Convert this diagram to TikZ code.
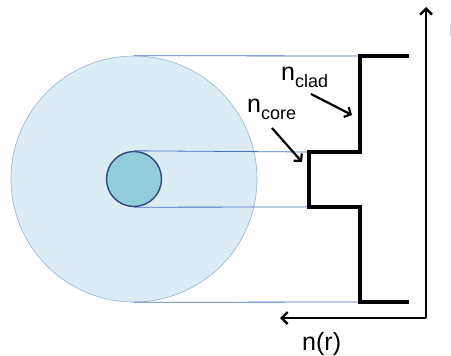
\documentclass[tikz,border=0pt]{standalone}
\usepackage{fontspec}
\setmainfont{Liberation Sans}
\usetikzlibrary{arrows.meta}
\definecolor{cladfill}{RGB}{219,236,244}
\definecolor{cladedge}{RGB}{150,180,210}
\definecolor{corefill}{RGB}{146,205,220}
\definecolor{coreedge}{RGB}{47,72,120}
\definecolor{guide}{RGB}{68,114,196}
\tikzset{
  guideline/.style={draw=guide, line width=0.8pt},
  profile/.style={draw=black, line width=4pt, line cap=rect, line join=miter},
  axisline/.style={draw=black, line width=2.3pt, -{Straight Barb[length=6pt,width=12pt,line width=2.3pt]}},
  labelarrow/.style={draw=black, line width=2.2pt, -{Straight Barb[length=5pt,width=11pt,line width=2.2pt]}},
  lbl/.style={inner sep=0pt, anchor=base west, font=\fontsize{25}{25}\selectfont},
}
\newcommand{\subtxt}[1]{{\fontsize{18}{18}\selectfont\raisebox{-6pt}{#1}}}
\begin{document}
\begin{tikzpicture}[x=1pt,y=-1pt]
\useasboundingbox (0,0) rectangle (451,356);
% fibre cross-section
\node[circle, fill=cladfill, draw=cladedge, line width=0.6pt, minimum size=246pt, inner sep=0pt] (clad) at (134,179) {};
\node[circle, fill=corefill, draw=coreedge, line width=1.4pt, minimum size=55pt, inner sep=0pt] (core) at (134,179) {};
% profile corners
\coordinate (p1) at (407,56);
\coordinate (p2) at (360,56);
\coordinate (p3) at (360,152);
\coordinate (p4) at (309,152);
\coordinate (p5) at (309,207);
\coordinate (p6) at (360,207);
\coordinate (p7) at (360,302);
\coordinate (p8) at (407,302);
% guide lines
\draw[guideline] (clad.north) -- (p2);
\draw[guideline] (core.north) -- (p4);
\draw[guideline] (core.south) -- (p5);
\draw[guideline] (clad.south) -- (p7);
% profile
\draw[profile] (p1) -- (p2) -- (p3) -- (p4) -- (p5) -- (p6) -- (p7) -- (p8);
% axes
\coordinate (origin) at (426,318);
\coordinate (ytip) at (426,7);
\coordinate (xtip) at (280,318);
\draw[axisline] (origin) -- (ytip);
\draw[axisline] (origin) -- (xtip);
% labels
\node[lbl] (nclad) at (281,81) {n\subtxt{clad}};
\node[lbl] (ncore) at (247,113) {n\subtxt{core}};
\node[lbl] (nr) at (302,350) {n(r)};
\coordinate (ca1) at (311,94);
\coordinate (ca2) at (352,115);
\coordinate (co1) at (272,128);
\coordinate (co2) at (302,162);
\draw[labelarrow] (ca1) -- (ca2);
\draw[labelarrow] (co1) -- (co2);
% edge mark
\draw[draw=black!20, line width=1pt] (450.5,25) -- (450.5,36);
\end{tikzpicture}
\end{document}
